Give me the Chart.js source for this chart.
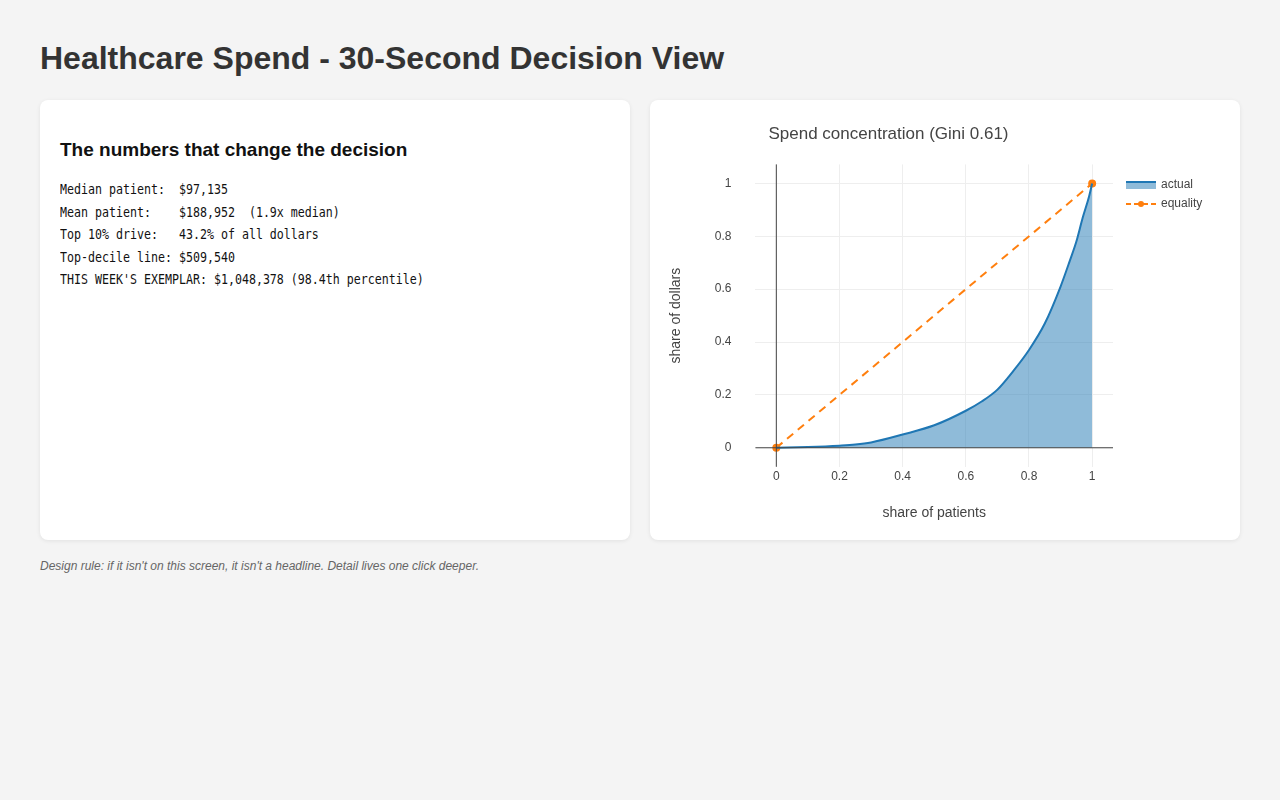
<!DOCTYPE html>
<html>
<head>
<meta charset="utf-8">
<script src="https://cdn.jsdelivr.net/npm/chart.js@4"></script>
<style>
  body { margin: 0; background: #f4f4f4; font-family: "Liberation Sans", Arial, sans-serif; width: 1280px; height: 800px; overflow: hidden; }
  h1 { position: absolute; left: 40px; top: 40px; margin: 0; font-size: 32px; color: #333; font-weight: bold; }
  .card { position: absolute; top: 100px; width: 590px; height: 440px; background: #fff; border-radius: 8px; box-shadow: 0 1px 4px rgba(0,0,0,0.08); }
  #left { left: 40px; }
  #right { left: 650px; }
  #left h2 { position: absolute; left: 20px; top: 39px; margin: 0; font-size: 19px; color: #111; }
  #left pre { position: absolute; left: 20px; top: 78px; margin: 0; font-family: "DejaVu Sans Mono", monospace; font-size: 14px; line-height: 22.5px; color: #111; transform: scaleX(0.83); transform-origin: left top; }
  .note { position: absolute; left: 40px; top: 559px; font-size: 12px; font-style: italic; color: #666; }
  .leg { position: absolute; left: 476px; font-size: 12px; color: #444; }
  .leg span { display: inline-block; vertical-align: middle; width: 30px; margin-right: 5px; }
</style>
</head>
<body>
<h1>Healthcare Spend - 30-Second Decision View</h1>
<div class="card" id="left">
  <h2>The numbers that change the decision</h2>
<pre>Median patient:  $97,135
Mean patient:    $188,952  (1.9x median)
Top 10% drive:   43.2% of all dollars
Top-decile line: $509,540
THIS WEEK'S EXEMPLAR: $1,048,378 (98.4th percentile)</pre>
</div>
<div class="card" id="right">
  <canvas id="c" width="590" height="440"></canvas>
  <div class="leg" style="top:77px"><span style="height:6px;background:rgba(31,119,180,0.5);border-top:2px solid #1f77b4"></span>actual</div>
  <div class="leg" style="top:96px"><span style="height:8px;background:linear-gradient(90deg,#ff7f0e 0 5px,transparent 5px 8px,#ff7f0e 8px 22px,transparent 22px 25px,#ff7f0e 25px) center/100% 2px no-repeat;position:relative"><i style="position:absolute;left:12px;top:1px;width:6px;height:6px;border-radius:3px;background:#ff7f0e"></i></span>equality</div>
</div>
<div class="note">Design rule: if it isn't on this screen, it isn't a headline. Detail lives one click deeper.</div>
<script>
var shareX = [0, 0.1, 0.2, 0.25, 0.3, 0.4, 0.5, 0.6, 0.65, 0.7, 0.75, 0.8, 0.85, 0.9, 0.93, 0.95, 0.97, 0.99, 1];
var shareY = [0, 0.003, 0.008, 0.012, 0.02, 0.05, 0.085, 0.14, 0.175, 0.22, 0.29, 0.37, 0.47, 0.61, 0.71, 0.78, 0.87, 0.95, 1];
var equalX = [0, 1];
var equalY = [0, 1];
var ticks = [0, 0.2, 0.4, 0.6, 0.8, 1];

function pts(xs, ys) { return xs.map(function (x, i) { return {x: x, y: ys[i]}; }); }

var zeroLines = {
  id: 'zeroLines',
  afterDraw: function (chart) {
    var ctx = chart.ctx, xs = chart.scales.x, ys = chart.scales.y;
    ctx.save();
    ctx.strokeStyle = '#444'; ctx.lineWidth = 1;
    ctx.beginPath();
    ctx.moveTo(xs.getPixelForValue(0), ys.top); ctx.lineTo(xs.getPixelForValue(0), ys.bottom);
    ctx.moveTo(xs.left, ys.getPixelForValue(0)); ctx.lineTo(xs.right, ys.getPixelForValue(0));
    ctx.stroke();
    ctx.restore();
  }
};

Chart.defaults.font.family = '"Liberation Sans", Arial, sans-serif';
Chart.defaults.color = '#444';
new Chart(document.getElementById('c'), {
  type: 'scatter',
  data: {
    datasets: [{
      label: 'actual',
      data: pts(shareX, shareY),
      showLine: true,
      borderColor: '#1f77b4',
      backgroundColor: 'rgba(31,119,180,0.5)',
      borderWidth: 2,
      pointRadius: 0,
      fill: 'origin',
      cubicInterpolationMode: 'monotone'
    }, {
      label: 'equality',
      data: pts(equalX, equalY),
      showLine: true,
      borderColor: '#ff7f0e',
      backgroundColor: '#ff7f0e',
      borderWidth: 2,
      borderDash: [8, 6],
      pointRadius: 3,
      fill: false
    }]
  },
  options: {
    responsive: false,
    animation: false,
    layout: { padding: { left: 14, right: 127, top: 24, bottom: 14 } },
    plugins: {
      title: { display: true, text: 'Spend concentration (Gini 0.61)', font: { size: 17, weight: 'normal' }, color: '#444', padding: { top: 0, bottom: 20 } },
      legend: { display: false },
      tooltip: { enabled: false }
    },
    scales: {
      x: {
        type: 'linear', min: -0.066, max: 1.066,
        afterBuildTicks: function (s) { s.ticks = ticks.map(function (v) { return {value: v}; }); },
        grid: { color: '#eee', drawTicks: false },
        border: { display: false },
        ticks: { padding: 3, font: { size: 12 }, callback: function (v) { return String(v); } },
        title: { display: true, text: 'share of patients', font: { size: 14 }, padding: { top: 18 } }
      },
      y: {
        type: 'linear', min: -0.072, max: 1.072,
        afterBuildTicks: function (s) { s.ticks = ticks.map(function (v) { return {value: v}; }); },
        grid: { color: '#eee', drawTicks: false },
        border: { display: false },
        ticks: { padding: 24, font: { size: 12 }, callback: function (v) { return String(v); } },
        title: { display: true, text: 'share of dollars', font: { size: 14 }, padding: { bottom: 6 } }
      }
    }
  },
  plugins: [zeroLines]
});
</script>
</body>
</html>
